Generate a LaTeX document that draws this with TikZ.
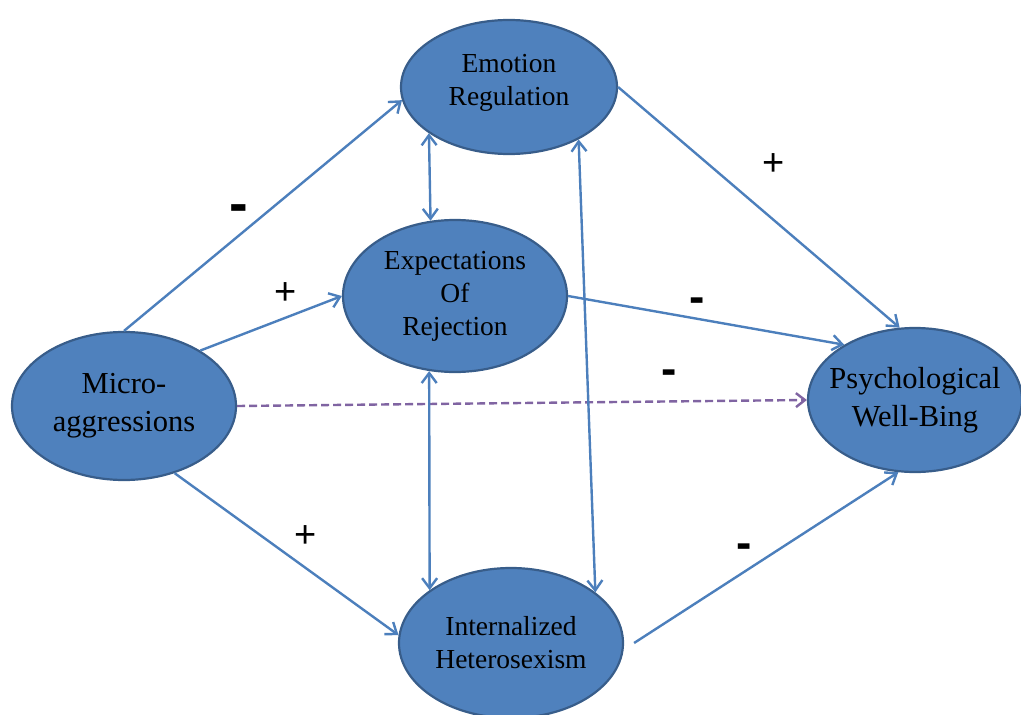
\documentclass[tikz,border=0pt]{standalone}
\usepackage{fontspec}
\setmainfont{Liberation Serif}
\newfontfamily\signfont{Liberation Sans}
\usetikzlibrary{shapes.geometric,arrows.meta}

\definecolor{nodefill}{RGB}{79,129,189}
\definecolor{nodeedge}{RGB}{56,93,138}
\definecolor{linkblue}{RGB}{76,127,188}
\definecolor{linkpurple}{RGB}{128,100,162}

\tikzset{
  construct/.style={ellipse, draw=nodeedge, fill=nodefill, line width=2.2pt,
    inner sep=0pt, align=center, text=black},
  caption/.style={align=center, inner sep=0pt, text=black},
  smalltext/.style={font=\fontsize{27.5}{33}\selectfont},
  bigtext/.style={font=\fontsize{30.5}{38}\selectfont},
  link/.style={draw=linkblue, line width=2.4pt,
    -{Straight Barb[length=10pt,width=15pt]}},
  bilink/.style={draw=linkblue, line width=2.4pt,
    {Straight Barb[length=10pt,width=15pt]}-{Straight Barb[length=10pt,width=15pt]}},
  directlink/.style={draw=linkpurple, line width=2.4pt, dash pattern=on 8pt off 4pt,
    -{Straight Barb[length=9pt,width=14pt]}},
  minussign/.style={anchor=base, inner sep=0pt, font=\signfont\bfseries\fontsize{46}{46}\selectfont},
  plussign/.style={anchor=base, inner sep=0pt, font=\signfont\fontsize{38}{38}\selectfont},
}

\begin{document}
\begin{tikzpicture}[x=1pt, y=-1pt]
  \path[use as bounding box] (0,0) rectangle (1021,715);

  % constructs
  \node[construct, minimum width=216pt, minimum height=134pt] (emo) at (509,87) {};
  \node[caption, smalltext] (emotext) at (509,83) {Emotion\\Regulation};
  \node[construct, smalltext, minimum width=224pt, minimum height=152pt] (exp) at (455,296) {Expectations\\Of\\Rejection};
  \node[construct, bigtext, minimum width=224pt, minimum height=148pt] (mic) at (124,406) {Micro-\\aggressions};
  \node[construct, minimum width=214pt, minimum height=144pt] (wb) at (915,400) {};
  \node[caption, bigtext] (wbtext) at (915,400) {Psychological\\Well-Bing};
  \node[construct, smalltext, minimum width=224pt, minimum height=150pt] (int) at (511,643) {Internalized\\Heterosexism};

  % directed paths
  \draw[link] (mic.north) -- (emo.187);
  \draw[link] (mic.36) -- (exp.180);
  \draw[link] (mic.-53) -- (int.176);
  \draw[link] (emo.east) -- (wb.102);
  \draw[link] (exp.east) -- (wb.142);
  \draw[link] ([xshift=10pt]int.east) -- (wb.257);
  \draw[directlink] (mic.east) -- (wb.west);

  % covariances
  \draw[bilink] (emo.210.2) -- (exp.108.7);
  \draw[bilink] (exp.251.3) -- (int.147.3);
  \draw[bilink] (emo.323.6) -- (int.31.7);

  % path signs
  \node[minussign, font=\signfont\bfseries\fontsize{56}{56}\selectfont] (s1) at (239,222) {-};
  \node[plussign] (s2) at (285.5,304) {+};
  \node[plussign] (s3) at (305.5,547) {+};
  \node[plussign] (s4) at (773.5,175) {+};
  \node[minussign] (s5) at (697,312) {-};
  \node[minussign] (s6) at (669,384) {-};
  \node[minussign] (s7) at (744,558) {-};
\end{tikzpicture}
\end{document}
